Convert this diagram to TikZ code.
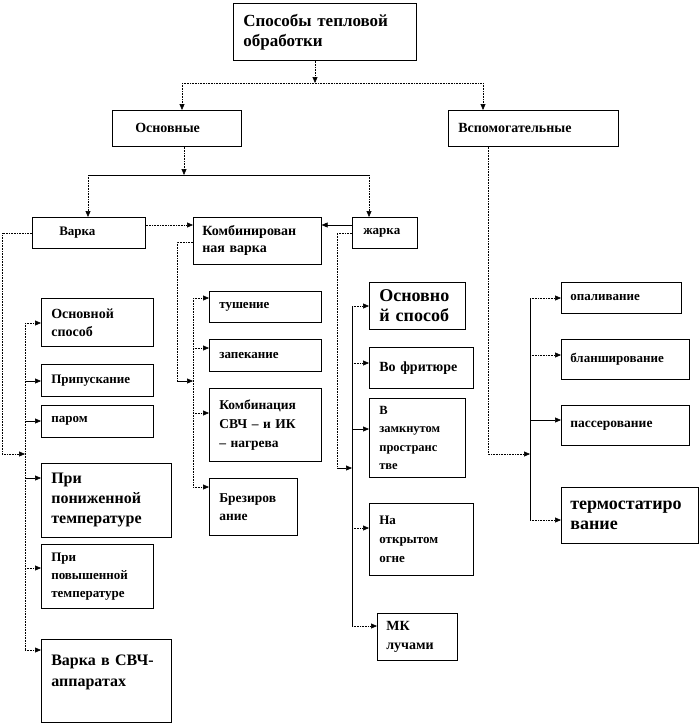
\documentclass[tikz,border=0pt]{standalone}
\usepackage{fontspec}
\setmainfont{Liberation Serif}
\usetikzlibrary{arrows.meta,shadows}
\tikzset{
  box/.style={draw=black, line width=0.6pt, fill=white, inner ysep=0pt, align=left,
    drop shadow={shadow xshift=0.9pt, shadow yshift=-0.9pt, fill=black!70, opacity=0.8}},
  conn/.style={line width=0.6pt, densely dotted},
  sconn/.style={line width=0.6pt},
  arr/.style={conn, -{Triangle[length=6pt,width=5pt]}},
  sarr/.style={sconn, -{Triangle[length=6pt,width=5pt]}},
}
\newcommand\bx[9]{%
  \pgfmathsetmacro\bxw{#4-#2}%
  \pgfmathsetmacro\bxh{#5-#3}%
  \pgfmathsetmacro\bxt{#4-#2-2*#6}%
  \node[box, anchor=north west, minimum width=\bxw pt, minimum height=\bxh pt,
    text width=\bxt pt, inner xsep=#6pt,
    font={\fontsize{#7}{#8}\selectfont\bfseries}] (#1) at (#2,#3) {#9};}
\begin{document}
\begin{tikzpicture}[x=1pt,y=-1pt]
\useasboundingbox (0,0) rectangle (700,725);

% boxes
\bx{top}{233}{3}{416}{60}{10}{17}{20}{Способы~тепловой\\обработки}
\bx{osn}{112}{110}{241}{146}{23}{14}{17}{Основные}
\bx{vsp}{448}{110}{618}{146}{10}{14}{17}{Вспомогательные}
\bx{varka}{32}{217}{145}{248}{27}{13}{16}{Варка}
\bx{komb}{193}{217}{321}{264}{9}{14}{17}{Комбинирован\\ная~варка}
\bx{zharka}{352}{217}{417}{248}{11}{13}{16}{жарка}

\bx{v1}{41}{298}{153}{346}{10}{14}{18}{Основной\\способ}
\bx{v2}{41}{364}{153}{396}{10}{13}{16}{Припускание}
\bx{v3}{41}{405}{153}{437}{10}{13}{16}{паром}
\bx{v4}{41}{463}{171}{537}{10}{16}{20}{При\\пониженной\\температуре}
\bx{v5}{41}{544}{153}{608}{10}{13}{18}{При\\повышенной\\температуре}
\bx{v6}{41}{639}{171}{722}{10}{16}{21}{Варка~в~СВЧ-\\аппаратах\\\mbox{}}

\bx{k1}{209}{291}{321}{322}{10}{13}{16}{тушение}
\bx{k2}{209}{339}{321}{371}{10}{13}{16}{запекание}
\bx{k3}{209}{388}{321}{461}{10}{13.5}{19}{Комбинация\\СВЧ~–~и~ИК\\–~нагрева}
\bx{k4}{209}{478}{297}{535}{10}{13.5}{18}{Брезиров\\ание}

\bx{zh1}{369}{282}{465}{329}{10}{18}{20}{Основно\\й~способ}
\bx{zh2}{369}{347}{473}{388}{10}{14}{17}{Во~фритюре}
\bx{zh3}{369}{398}{465}{477}{10}{12.5}{18.5}{В\\замкнутом\\пространс\\тве}
\bx{zh4}{369}{503}{473}{575}{10}{13}{19}{На\\открытом\\огне}
\bx{zh5}{377}{613}{457}{660}{9}{14}{19}{МК\\лучами}

\bx{vs1}{561}{282}{681}{313}{9}{13}{16}{опаливание}
\bx{vs2}{561}{339}{689}{379}{9}{13}{16}{бланширование}
\bx{vs3}{561}{405}{689}{445}{9}{13.5}{16}{пассерование}
\bx{vs4}{561}{487}{698}{543}{9}{18}{20}{термостатиро\\вание}

% top level
\coordinate (t1) at (315,83);
\coordinate (t2) at (182,83);
\coordinate (t3) at (483,83);
\draw[arr] (top.south -| t1) -- (t1);
\draw[conn] (t2) -- (t3);
\draw[arr] (t2) -- (osn.north -| t2);
\draw[arr] (t3) -- (vsp.north -| t3);

% Основные
\coordinate (o1) at (184,175);
\coordinate (o2) at (88,175);
\coordinate (o3) at (369,175);
\draw[arr] (osn.south -| o1) -- (o1);
\draw[sconn] (o2) -- (o3);
\draw[arr] (o2) -- (varka.north -| o2);
\draw[arr] (o3) -- (zharka.north -| o3);

% to combined
\coordinate (h1) at (0,225);
\draw[arr] (varka.east |- h1) -- (komb.west |- h1);
\draw[sarr] (zharka.west |- h1) -- (komb.east |- h1);

% Варка bus
\coordinate (vl1) at (2,233);
\coordinate (vl2) at (2,454);
\coordinate (vl3) at (25,454);
\draw[arr] (varka.west |- vl1) -- (vl1) -- (vl2) -- (vl3);
\coordinate (vbt) at (25,323);
\coordinate (vbb) at (25,650);
\draw[conn] (vbt) -- (vbb);
\foreach \n/\y/\s in {v1/323/arr, v2/381/sarr, v3/421/sarr, v4/478/sarr, v5/568/arr, v6/650/arr}{
  \coordinate (vb-\n) at (25,\y);
  \draw[\s] (vb-\n) -- (vb-\n -| \n.west);
}

% Комбинированная варка bus
\coordinate (kl1) at (177,242);
\coordinate (kl2) at (177,381);
\coordinate (kl3) at (193,381);
\draw[conn] (komb.west |- kl1) -- (kl1) -- (kl2);
\draw[sarr] (kl2) -- (kl3);
\coordinate (kbt) at (193,298);
\coordinate (kbb) at (193,487);
\draw[conn] (kbt) -- (kbb);
\foreach \n/\y in {k1/298, k2/348, k3/413, k4/487}{
  \coordinate (kb-\n) at (193,\y);
  \draw[arr] (kb-\n) -- (kb-\n -| \n.west);
}

% жарка bus
\coordinate (zl1) at (337,233);
\coordinate (zl2) at (337,468);
\coordinate (zl3) at (352,468);
\draw[conn] (zharka.west |- zl1) -- (zl1) -- (zl2);
\draw[sarr] (zl2) -- (zl3);
\coordinate (zbt) at (352,306);
\coordinate (zbb) at (352,626);
\draw[sconn] (zbt) -- (zbb);
\foreach \n/\y/\s in {zh1/306/arr, zh2/363/arr, zh3/429/sarr, zh4/528/arr, zh5/626/arr}{
  \coordinate (zb-\n) at (352,\y);
  \draw[\s] (zb-\n) -- (zb-\n -| \n.west);
}

% Вспомогательные bus
\coordinate (sl1) at (488,454);
\coordinate (sl2) at (530,454);
\draw[arr] (vsp.south -| sl1) -- (sl1) -- (sl2);
\coordinate (sbt) at (530,298);
\coordinate (sbb) at (530,520);
\draw[sconn] (sbt) -- (sbb);
\foreach \n/\y/\s in {vs1/298/arr, vs2/355/arr, vs3/420/sarr, vs4/520/arr}{
  \coordinate (sb-\n) at (530,\y);
  \draw[\s] (sb-\n) -- (sb-\n -| \n.west);
}
\end{tikzpicture}
\end{document}
